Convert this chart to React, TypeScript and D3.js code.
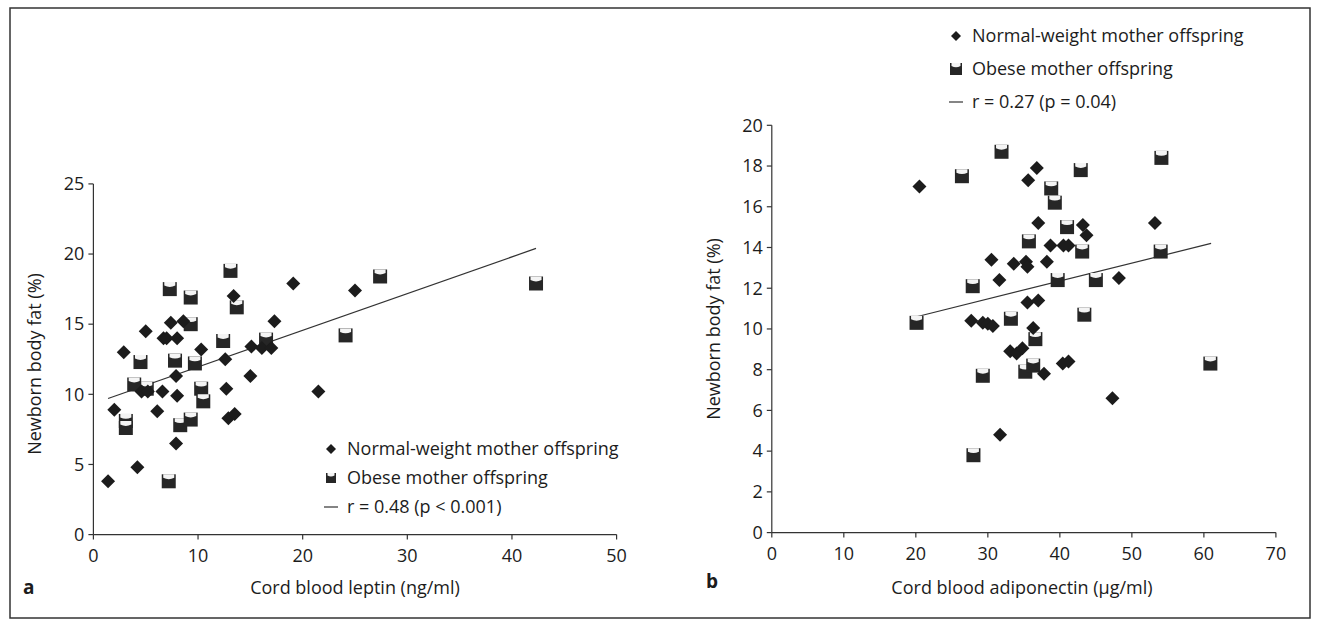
import React from "react";
import * as d3 from "d3";

// panel a: cord blood leptin vs newborn body fat
const leptinNormalX = [1.4, 2.0, 2.9, 4.2, 5.0, 4.6, 5.2, 6.1, 6.6, 6.7, 7.0, 8.0, 7.4, 8.6, 7.9, 8.0, 7.9, 10.3, 12.6, 12.7, 12.9, 13.5, 13.4, 15.1, 15.0, 16.1, 17.0, 17.3, 19.1, 21.5, 25.0];
const leptinNormalY = [3.8, 8.9, 13.0, 4.8, 14.5, 10.2, 10.2, 8.8, 10.2, 14.0, 14.0, 14.0, 15.1, 15.2, 11.3, 9.9, 6.5, 13.2, 12.5, 10.4, 8.3, 8.6, 17.0, 13.4, 11.3, 13.3, 13.3, 15.2, 17.9, 10.2, 17.4];
const leptinObeseX = [7.2, 3.1, 3.1, 3.9, 5.1, 4.5, 7.3, 7.8, 8.3, 9.3, 9.3, 9.3, 9.7, 10.3, 10.5, 12.4, 13.1, 13.7, 16.5, 24.1, 27.4, 42.3];
const leptinObeseY = [3.8, 8.1, 7.6, 10.7, 10.4, 12.3, 17.5, 12.4, 7.8, 16.9, 15.0, 8.2, 12.2, 10.4, 9.5, 13.8, 18.8, 16.2, 13.9, 14.2, 18.4, 17.9];
const leptinFitX = [1.4, 42.3];
const leptinFitY = [9.7, 20.4];

// panel b: cord blood adiponectin vs newborn body fat
const adipoNormalX = [20.5, 27.7, 29.3, 30.0, 30.7, 30.5, 31.6, 31.7, 33.1, 33.6, 34.0, 34.8, 35.3, 35.5, 35.6, 35.5, 36.8, 37.0, 37.0, 36.3, 37.8, 38.2, 38.7, 40.5, 41.2, 40.4, 41.2, 43.2, 43.7, 47.3, 48.2, 53.2];
const adipoNormalY = [17.0, 10.4, 10.3, 10.25, 10.15, 13.4, 12.4, 4.8, 8.9, 13.2, 8.8, 9.05, 13.3, 13.05, 17.3, 11.3, 17.9, 15.2, 11.4, 10.05, 7.8, 13.3, 14.1, 14.1, 14.1, 8.3, 8.4, 15.1, 14.6, 6.6, 12.5, 15.2];
const adipoObeseX = [20.1, 26.4, 27.9, 28.0, 29.3, 31.9, 33.2, 35.7, 35.2, 36.3, 36.6, 38.8, 39.3, 39.7, 41.0, 42.9, 43.1, 43.4, 45.0, 54.1, 54.0, 60.9];
const adipoObeseY = [10.3, 17.5, 12.1, 3.8, 7.7, 18.7, 10.5, 14.3, 7.9, 8.2, 9.5, 16.9, 16.2, 12.4, 15.0, 17.8, 13.8, 10.7, 12.4, 18.4, 13.8, 8.3];
const adipoFitX = [20.1, 61.0];
const adipoFitY = [10.6, 14.2];

const xTicksA = [0, 10, 20, 30, 40, 50];
const yTicksA = [0, 5, 10, 15, 20, 25];
const xTicksB = [0, 10, 20, 30, 40, 50, 60, 70];
const yTicksB = [0, 2, 4, 6, 8, 10, 12, 14, 16, 18, 20];

const ink = "#1c1c1c";
const font = "'Open Sans', 'Noto Sans', sans-serif";
const fs = 18;

function Diamond({ x, y, r = 7 }: { x: number; y: number; r?: number }) {
  return <path d={`M${x},${y - r}L${x + r},${y}L${x},${y + r}L${x - r},${y}Z`} fill={ink} />;
}

function Cup({ x, y, s = 14 }: { x: number; y: number; s?: number }) {
  const h = s / 2;
  return (
    <g transform={`translate(${x},${y})`}>
      <rect x={-h} y={-h} width={s} height={s} fill="#262626" />
      <path d={`M${-h + 1.5},${-h}L${h - 1.5},${-h}L${h - 1.5},${-h + s * 0.25}Q0,${-h + s * 0.45} ${-h + 1.5},${-h + s * 0.25}Z`} fill="#f4f4f4" />
    </g>
  );
}

type PanelProps = {
  letter: string;
  xLabel: string;
  xDomain: [number, number];
  yDomain: [number, number];
  xRange: [number, number];
  yRange: [number, number];
  xTicks: number[];
  yTicks: number[];
  normalX: number[];
  normalY: number[];
  obeseX: number[];
  obeseY: number[];
  fitX: number[];
  fitY: number[];
  stat: string;
  legend: { x: number; y: number; gap: number; dia: number; cup: number };
  letterPos: [number, number];
  yTitle: [number, number];
  xTitleX: number;
};

function Panel(p: PanelProps) {
  const x = d3.scaleLinear().domain(p.xDomain).range(p.xRange);
  const y = d3.scaleLinear().domain(p.yDomain).range(p.yRange);
  const line = d3.line<number>().x((d) => x(p.fitX[d])).y((d) => y(p.fitY[d]));
  const x0 = p.xRange[0];
  const y0 = p.yRange[0];
  const lg = p.legend;
  return (
    <g fontFamily={font} fill={ink}>
      {/* axes */}
      <line x1={x0} x2={x0} y1={y0} y2={p.yRange[1]} stroke="#333" strokeWidth={1.2} />
      <line x1={x0} x2={p.xRange[1]} y1={y0} y2={y0} stroke="#333" strokeWidth={1.2} />
      {p.xTicks.map((t) => (
        <g key={"x" + t}>
          <line x1={x(t)} x2={x(t)} y1={y0} y2={y0 + 5} stroke="#333" strokeWidth={1.2} />
          <text x={x(t)} y={y0 + 27} textAnchor="middle" fontSize={fs}>{t}</text>
        </g>
      ))}
      {p.yTicks.map((t) => (
        <g key={"y" + t}>
          <line x1={x0 - 5} x2={x0} y1={y(t)} y2={y(t)} stroke="#333" strokeWidth={1.2} />
          <text x={x0 - 9} y={y(t)} dy="0.35em" textAnchor="end" fontSize={fs}>{t}</text>
        </g>
      ))}
      <text x={p.xTitleX} y={594} textAnchor="middle" fontSize={fs}>{p.xLabel}</text>
      <text transform={`translate(${p.yTitle[0]},${p.yTitle[1]}) rotate(-90)`} textAnchor="middle" dy="0.35em" fontSize={fs}>
        Newborn body fat (%)
      </text>
      <text x={p.letterPos[0]} y={p.letterPos[1]} fontSize={19} fontWeight="bold">{p.letter}</text>

      {/* fitted line */}
      <path d={line([0, 1]) || ""} fill="none" stroke="#333" strokeWidth={1.2} />

      {/* points */}
      {p.obeseX.map((v, i) => <Cup key={"o" + i} x={x(v)} y={y(p.obeseY[i])} />)}
      {p.normalX.map((v, i) => <Diamond key={"n" + i} x={x(v)} y={y(p.normalY[i])} />)}

      {/* legend */}
      <Diamond x={lg.x} y={lg.y} r={lg.dia} />
      <text x={lg.x + 16} y={lg.y} dy="0.35em" fontSize={fs}>Normal-weight mother offspring</text>
      <Cup x={lg.x} y={lg.y + lg.gap} s={lg.cup} />
      <text x={lg.x + 16} y={lg.y + lg.gap} dy="0.35em" fontSize={fs}>Obese mother offspring</text>
      <line x1={lg.x - 7} x2={lg.x + 7} y1={lg.y + 2 * lg.gap} y2={lg.y + 2 * lg.gap} stroke="#333" strokeWidth={1.2} />
      <text x={lg.x + 16} y={lg.y + 2 * lg.gap} dy="0.35em" fontSize={fs}>{p.stat}</text>
    </g>
  );
}

export default function App() {
  return (
    <svg width={1319} height={620} style={{ position: "absolute", left: 0, top: 0, background: "#fff" }}>
      <rect x={0} y={0} width={1319} height={620} fill="#fff" />
      <rect x={10} y={8} width={1300} height={610} fill="none" stroke="#333" strokeWidth={1.5} />
      <Panel
        letter="a"
        xLabel="Cord blood leptin (ng/ml)"
        xDomain={[0, 50]}
        yDomain={[0, 25]}
        xRange={[93.4, 616.6]}
        yRange={[534.6, 183.9]}
        xTicks={xTicksA}
        yTicks={yTicksA}
        normalX={leptinNormalX}
        normalY={leptinNormalY}
        obeseX={leptinObeseX}
        obeseY={leptinObeseY}
        fitX={leptinFitX}
        fitY={leptinFitY}
        stat="r = 0.48 (p < 0.001)"
        legend={{ x: 331, y: 449, gap: 29, dia: 5, cup: 10 }}
        letterPos={[23, 594]}
        yTitle={[35, 364]}
        xTitleX={355}
      />
      <Panel
        letter="b"
        xLabel="Cord blood adiponectin (µg/ml)"
        xDomain={[0, 70]}
        yDomain={[0, 20]}
        xRange={[771.8, 1275.9]}
        yRange={[532.6, 125.3]}
        xTicks={xTicksB}
        yTicks={yTicksB}
        normalX={adipoNormalX}
        normalY={adipoNormalY}
        obeseX={adipoObeseX}
        obeseY={adipoObeseY}
        fitX={adipoFitX}
        fitY={adipoFitY}
        stat="r = 0.27 (p = 0.04)"
        legend={{ x: 956, y: 36, gap: 33, dia: 5, cup: 12 }}
        letterPos={[706, 588]}
        yTitle={[714, 329]}
        xTitleX={1022}
      />
    </svg>
  );
}
